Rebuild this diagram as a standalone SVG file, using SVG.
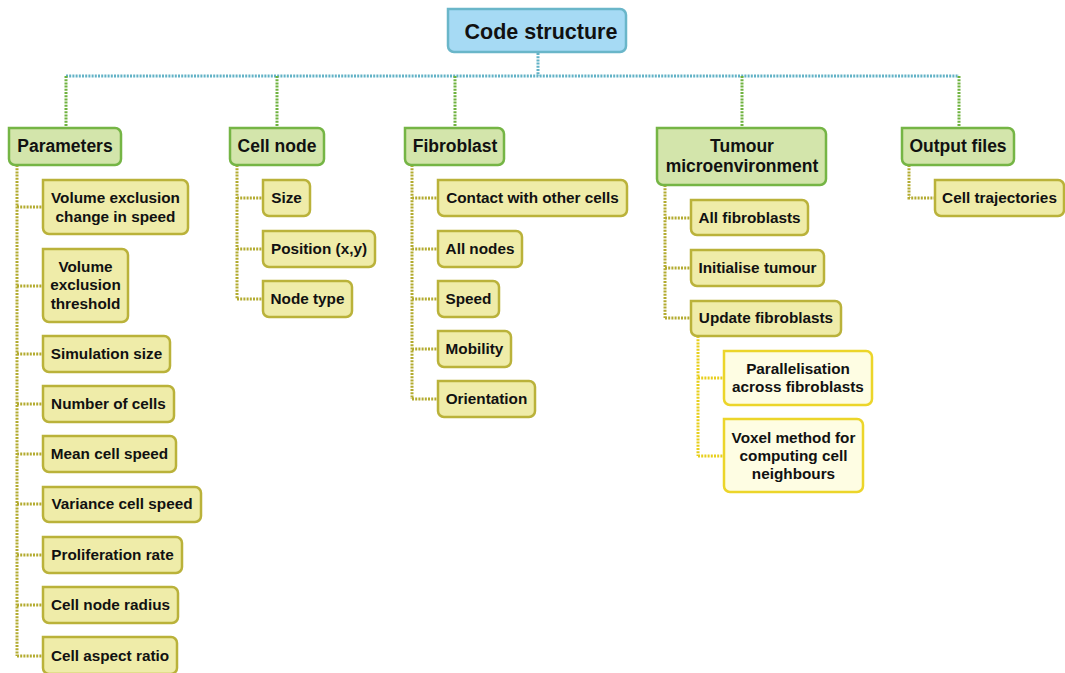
<svg xmlns="http://www.w3.org/2000/svg" width="1065" height="673" viewBox="0 0 1065 673">
<style>
text{font-family:"Liberation Sans",Arial,sans-serif;font-weight:bold;fill:#111;text-anchor:middle}
.t0{font-size:21.5px}
.t1{font-size:17.5px}
.t2{font-size:15.3px}
.root{fill:#a6daf4;stroke:#6ab6c9;stroke-width:2.5}
.l1{fill:#d3e5ab;stroke:#75b545;stroke-width:2.5}
.l2{fill:#efeca9;stroke:#bab23a;stroke-width:2.5}
.l3{fill:#fefde3;stroke:#ecd52a;stroke-width:2.5}
.c{fill:none;stroke-width:3;stroke-dasharray:2 1.2}
.ct{stroke:#62b2c6}
.cg{stroke:#6fb23f}
.co{stroke:#b3ab30}
.cy{stroke:#e8cf1c}
</style>
<g id="connectors">
<path class="c ct" d="M538 53V76M66 76H959"/>
<path class="c cg" d="M66 76V128M277 76V128M455 76V128M742 76V128M959 76V128"/>
<path class="c co" d="M17 165V656M17 207H43M17 286H43M17 354H43M17 404H43M17 454H43M17 504H43M17 555H43M17 605H43M17 656H43"/>
<path class="c co" d="M237 165V299M237 198H263M237 249H263M237 299H263"/>
<path class="c co" d="M412 165V399M412 198H438M412 249H438M412 299H438M412 349H438M412 399H438"/>
<path class="c co" d="M665 185V318M665 218H691M665 268H691M665 318H691"/>
<path class="c co" d="M909 165V198H935"/>
<path class="c cy" d="M698 336V456M698 378H724M698 456H724"/>
</g>
<g id="root"><path class="root" d="M448 9h172a6 6 0 0 1 6 6v31a6 6 0 0 1-6 6h-166a6 6 0 0 1-6-6Z"/><text class="t0" x="541" y="39">Code structure</text></g>
<g id="parameters"><path class="l1" d="M9 128h106a6 6 0 0 1 6 6v25a6 6 0 0 1-6 6h-100a6 6 0 0 1-6-6Z"/><text class="t1" x="65" y="152">Parameters</text></g>
<g id="cellnode"><path class="l1" d="M230 128h88a6 6 0 0 1 6 6v25a6 6 0 0 1-6 6h-82a6 6 0 0 1-6-6Z"/><text class="t1" x="277" y="152">Cell node</text></g>
<g id="fibroblast"><path class="l1" d="M405 128h93a6 6 0 0 1 6 6v25a6 6 0 0 1-6 6h-87a6 6 0 0 1-6-6Z"/><text class="t1" x="455" y="152">Fibroblast</text></g>
<g id="tumour"><path class="l1" d="M657 128h163a6 6 0 0 1 6 6v45a6 6 0 0 1-6 6h-157a6 6 0 0 1-6-6Z"/><text class="t1" x="742" y="152">Tumour</text><text class="t1" x="742" y="172">microenvironment</text></g>
<g id="output"><path class="l1" d="M902 128h106a6 6 0 0 1 6 6v25a6 6 0 0 1-6 6h-100a6 6 0 0 1-6-6Z"/><text class="t1" x="958" y="152">Output files</text></g>

<g id="ve-change"><path class="l2" d="M43 180h139a6 6 0 0 1 6 6v42a6 6 0 0 1-6 6h-133a6 6 0 0 1-6-6Z"/><text class="t2" x="115.5" y="203">Volume exclusion</text><text class="t2" x="115.5" y="222">change in speed</text></g>
<g id="ve-threshold"><path class="l2" d="M43 249h79a6 6 0 0 1 6 6v61a6 6 0 0 1-6 6h-73a6 6 0 0 1-6-6Z"/><text class="t2" x="85.5" y="272">Volume</text><text class="t2" x="85.5" y="290">exclusion</text><text class="t2" x="85.5" y="309">threshold</text></g>
<g id="sim-size"><path class="l2" d="M43 336h121a6 6 0 0 1 6 6v24a6 6 0 0 1-6 6h-115a6 6 0 0 1-6-6Z"/><text class="t2" x="106.5" y="359">Simulation size</text></g>
<g id="num-cells"><path class="l2" d="M43 386h125a6 6 0 0 1 6 6v24a6 6 0 0 1-6 6h-119a6 6 0 0 1-6-6Z"/><text class="t2" x="108.5" y="409">Number of cells</text></g>
<g id="mean-speed"><path class="l2" d="M43 436h127a6 6 0 0 1 6 6v24a6 6 0 0 1-6 6h-121a6 6 0 0 1-6-6Z"/><text class="t2" x="109.5" y="459">Mean cell speed</text></g>
<g id="var-speed"><path class="l2" d="M43 487h152a6 6 0 0 1 6 6v23a6 6 0 0 1-6 6h-146a6 6 0 0 1-6-6Z"/><text class="t2" x="122" y="509">Variance cell speed</text></g>
<g id="prolif"><path class="l2" d="M43 537h133a6 6 0 0 1 6 6v24a6 6 0 0 1-6 6h-127a6 6 0 0 1-6-6Z"/><text class="t2" x="112.5" y="560">Proliferation rate</text></g>
<g id="node-radius"><path class="l2" d="M43 587h129a6 6 0 0 1 6 6v24a6 6 0 0 1-6 6h-123a6 6 0 0 1-6-6Z"/><text class="t2" x="110.5" y="610">Cell node radius</text></g>
<g id="aspect"><path class="l2" d="M43 637h128a6 6 0 0 1 6 6v25a6 6 0 0 1-6 6h-122a6 6 0 0 1-6-6Z"/><text class="t2" x="110" y="661">Cell aspect ratio</text></g>

<g id="size"><path class="l2" d="M263 180h41a6 6 0 0 1 6 6v24a6 6 0 0 1-6 6h-35a6 6 0 0 1-6-6Z"/><text class="t2" x="286.5" y="203">Size</text></g>
<g id="position"><path class="l2" d="M263 231h106a6 6 0 0 1 6 6v24a6 6 0 0 1-6 6h-100a6 6 0 0 1-6-6Z"/><text class="t2" x="319" y="254">Position (x,y)</text></g>
<g id="node-type"><path class="l2" d="M263 281h83a6 6 0 0 1 6 6v24a6 6 0 0 1-6 6h-77a6 6 0 0 1-6-6Z"/><text class="t2" x="307.5" y="304">Node type</text></g>

<g id="contact"><path class="l2" d="M438 180h183a6 6 0 0 1 6 6v24a6 6 0 0 1-6 6h-177a6 6 0 0 1-6-6Z"/><text class="t2" x="532.5" y="203">Contact with other cells</text></g>
<g id="all-nodes"><path class="l2" d="M438 231h78a6 6 0 0 1 6 6v24a6 6 0 0 1-6 6h-72a6 6 0 0 1-6-6Z"/><text class="t2" x="480" y="254">All nodes</text></g>
<g id="speed"><path class="l2" d="M438 281h55a6 6 0 0 1 6 6v24a6 6 0 0 1-6 6h-49a6 6 0 0 1-6-6Z"/><text class="t2" x="468.5" y="304">Speed</text></g>
<g id="mobility"><path class="l2" d="M438 331h67a6 6 0 0 1 6 6v24a6 6 0 0 1-6 6h-61a6 6 0 0 1-6-6Z"/><text class="t2" x="474.5" y="354">Mobility</text></g>
<g id="orientation"><path class="l2" d="M438 381h91a6 6 0 0 1 6 6v24a6 6 0 0 1-6 6h-85a6 6 0 0 1-6-6Z"/><text class="t2" x="486.5" y="404">Orientation</text></g>

<g id="all-fibroblasts"><path class="l2" d="M691 200h111a6 6 0 0 1 6 6v23a6 6 0 0 1-6 6h-105a6 6 0 0 1-6-6Z"/><text class="t2" x="749.5" y="223">All fibroblasts</text></g>
<g id="init-tumour"><path class="l2" d="M691 250h127a6 6 0 0 1 6 6v24a6 6 0 0 1-6 6h-121a6 6 0 0 1-6-6Z"/><text class="t2" x="757.5" y="273">Initialise tumour</text></g>
<g id="update-fibroblasts"><path class="l2" d="M691 301h144a6 6 0 0 1 6 6v23a6 6 0 0 1-6 6h-138a6 6 0 0 1-6-6Z"/><text class="t2" x="766" y="323">Update fibroblasts</text></g>

<g id="parallel"><path class="l3" d="M724 351h142a6 6 0 0 1 6 6v42a6 6 0 0 1-6 6h-136a6 6 0 0 1-6-6Z"/><text class="t2" x="798" y="374">Parallelisation</text><text class="t2" x="798" y="392">across fibroblasts</text></g>
<g id="voxel"><path class="l3" d="M724 419h133a6 6 0 0 1 6 6v61a6 6 0 0 1-6 6h-127a6 6 0 0 1-6-6Z"/><text class="t2" x="793.5" y="443">Voxel method for</text><text class="t2" x="793.5" y="461">computing cell</text><text class="t2" x="793.5" y="479">neighbours</text></g>

<g id="trajectories"><path class="l2" d="M935 180h123a6 6 0 0 1 6 6v24a6 6 0 0 1-6 6h-117a6 6 0 0 1-6-6Z"/><text class="t2" x="999.5" y="203">Cell trajectories</text></g>
</svg>
